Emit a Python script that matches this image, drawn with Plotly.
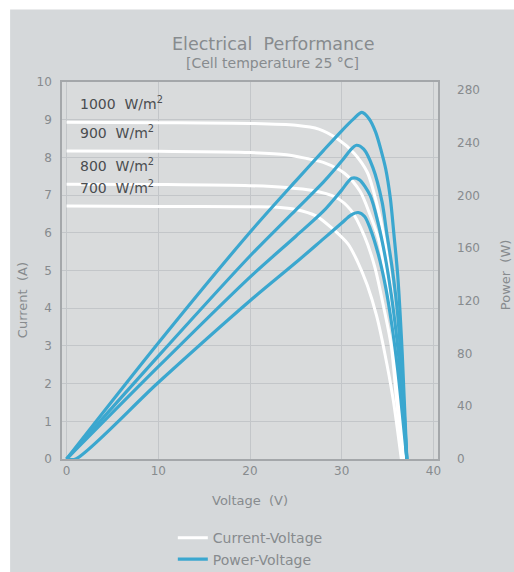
import plotly.graph_objects as go

# ---------------- data ----------------
irradiance = [1000, 900, 800, 700]          # W/m²
isc = [8.93, 8.17, 7.29, 6.71]              # short-circuit current (A)

iv_v_1000 = [0, 10, 20, 25, 27.5, 29.6, 31.4, 32.8, 33.8, 34.6, 35.4, 36.1, 36.8]
iv_i_1000 = [8.93, 8.92, 8.9, 8.85, 8.75, 8.48, 8.1, 7.6, 6.8, 5.9, 4.5, 2.6, 0]
iv_v_900 = [0, 10, 20, 24, 26, 28.2, 30.3, 32, 33.1, 34.1, 35.0, 35.8, 36.7]
iv_i_900 = [8.17, 8.16, 8.13, 8.07, 7.98, 7.85, 7.58, 7.1, 6.47, 5.76, 4.5, 2.7, 0]
iv_v_800 = [0, 10, 20, 24, 26.7, 29.3, 31, 32.5, 33.6, 34.6, 35.4, 36.0, 36.6]
iv_i_800 = [7.29, 7.28, 7.25, 7.2, 7.13, 6.95, 6.6, 5.9, 5.1, 4.0, 3.0, 1.5, 0]
iv_v_700 = [0, 10, 20, 23, 25, 27.2, 28.9, 30.7, 31.7, 32.8, 33.8, 34.7, 35.6, 36.5]
iv_i_700 = [6.71, 6.7, 6.69, 6.68, 6.62, 6.45, 6.13, 5.7, 5.25, 4.6, 3.8, 2.8, 1.6, 0]

pv_v_1000 = [0, 10, 20, 25, 28, 30, 31.3, 32.2, 33, 33.7, 34.3, 34.8, 35.3, 35.7, 36.1, 36.6, 37.1]
pv_p_1000 = [0, 88, 172, 211, 234, 249, 258, 263, 258, 248, 234, 220, 198, 170, 140, 80, 0]
pv_v_900 = [0, 10, 20, 25, 28, 30, 30.9, 31.6, 32.4, 33.4, 34.4, 34.9, 35.5, 36.1, 36.6, 37.1]
pv_p_900 = [0, 78, 154, 189, 210, 226, 234, 238, 235, 221, 195, 172, 145, 110, 62, 0]
pv_v_800 = [0, 10, 20, 25, 28, 30, 31.1, 31.9, 33.1, 34, 34.7, 35.4, 36, 36.6, 37.1]
pv_p_800 = [0, 70, 138, 169, 188, 204, 213, 212, 200, 178, 155, 125, 92, 50, 0]
pv_v_700 = [0, 1, 10, 20, 25, 28, 30, 31, 31.8, 32.5, 33.1, 34, 34.8, 35.5, 36.1, 36.6, 37.1]
pv_p_700 = [0, 0, 58, 120, 149, 167, 179, 185, 187, 184, 175, 155, 130, 100, 68, 35, 0]

left_ticks = list(range(0, 11))
right_ticks = [0, 40, 80, 120, 160, 200, 240, 280]
x_ticks = [0, 10, 20, 30, 40]

iv_sets = [(iv_v_1000, iv_i_1000), (iv_v_900, iv_i_900), (iv_v_800, iv_i_800), (iv_v_700, iv_i_700)]
pv_sets = [(pv_v_1000, pv_p_1000), (pv_v_900, pv_p_900), (pv_v_800, pv_p_800), (pv_v_700, pv_p_700)]

# ---------------- styling ----------------
FONT = "DejaVu Sans"
TXT = "#878b8e"
BLUE = "#3ba7cf"
PANEL = "#d5d8da"
PLOTBG = "#d9dbdc"
GRID = "#c3c6c9"

fig = go.Figure()

for k, (v, p) in enumerate(pv_sets):
    fig.add_trace(go.Scatter(x=v, y=p, mode="lines", yaxis="y2",
                             line=dict(color=BLUE, width=3.2, shape="spline", smoothing=0.8),
                             name="Power-Voltage", legendgroup="pv",
                             showlegend=(k == 0), legendrank=2))
for k, (v, i) in enumerate(iv_sets):
    fig.add_trace(go.Scatter(x=v, y=i, mode="lines",
                             line=dict(color="white", width=3, shape="spline", smoothing=0.8),
                             name="Current-Voltage", legendgroup="iv",
                             showlegend=(k == 0), legendrank=1))

annotations = [
    dict(text="Electrical  Performance", x=0.56, y=1.10, xref="paper", yref="paper",
         showarrow=False, font=dict(family=FONT, size=17.5, color=TXT), xanchor="center", yanchor="middle"),
    dict(text="[Cell temperature 25 °C]", x=0.56, y=1.05, xref="paper", yref="paper",
         showarrow=False, font=dict(family=FONT, size=14, color=TXT), xanchor="center", yanchor="middle"),
    dict(text="Current  (A)", x=-0.105, y=0.42, xref="paper", yref="paper", textangle=-90,
         showarrow=False, font=dict(family=FONT, size=13, color=TXT), xanchor="center", yanchor="middle"),
    dict(text="Power  (W)", x=1.178, y=0.49, xref="paper", yref="paper", textangle=-90,
         showarrow=False, font=dict(family=FONT, size=13, color=TXT), xanchor="center", yanchor="middle"),
    dict(text="Voltage  (V)", x=0.5, y=-0.11, xref="paper", yref="paper",
         showarrow=False, font=dict(family=FONT, size=13, color=TXT), xanchor="center", yanchor="middle"),
]
for g, i0 in zip(irradiance, isc):
    annotations.append(dict(text=f"{g}  W/m<sup>2</sup>", x=1.2, y=i0 + 0.5, xref="x", yref="y",
                            showarrow=False, xanchor="left", yanchor="middle",
                            font=dict(family=FONT, size=14, color="#4a4d50")))

fig.update_layout(
    width=514, height=572,
    margin=dict(l=62, r=76, t=82, b=113, autoexpand=False),
    paper_bgcolor="white",
    plot_bgcolor=PLOTBG,
    showlegend=True,
    legend=dict(x=0.487, xref="container", y=0.087, yref="container",
                xanchor="center", yanchor="top", orientation="v",
                bgcolor="rgba(0,0,0,0)", font=dict(family=FONT, size=14, color=TXT),
                tracegroupgap=0, itemwidth=30, traceorder="normal"),
    xaxis=dict(range=[-0.5, 40.5], tickvals=x_ticks, showgrid=True, gridcolor=GRID, gridwidth=1,
               zeroline=False, showline=True, linecolor="#a4a7aa", linewidth=1.5, mirror=True,
               ticks="", tickfont=dict(family=FONT, size=12, color=TXT)),
    yaxis=dict(range=[0, 10], tickvals=left_ticks, showgrid=True, gridcolor=GRID, gridwidth=1,
               zeroline=False, showline=True, linecolor="#a4a7aa", linewidth=1.5, mirror=True,
               ticks="", ticklabelstandoff=6, tickfont=dict(family=FONT, size=12, color=TXT)),
    yaxis2=dict(range=[0, 286], tickvals=right_ticks, overlaying="y", side="right",
                showgrid=False, zeroline=False, showline=False, ticks="", ticklabelstandoff=18,
                tickfont=dict(family=FONT, size=12, color=TXT)),
    annotations=annotations,
    shapes=[dict(type="rect", xref="paper", yref="paper", x0=-0.138, x1=1.21, y0=-0.31, y1=1.192,
                 fillcolor=PANEL, line=dict(width=0), layer="below"),
            dict(type="rect", xref="paper", yref="paper", x0=0, x1=1, y0=0, y1=1,
                 fillcolor=PLOTBG, line=dict(width=0), layer="below")],
)

fig.write_html("out.html")
